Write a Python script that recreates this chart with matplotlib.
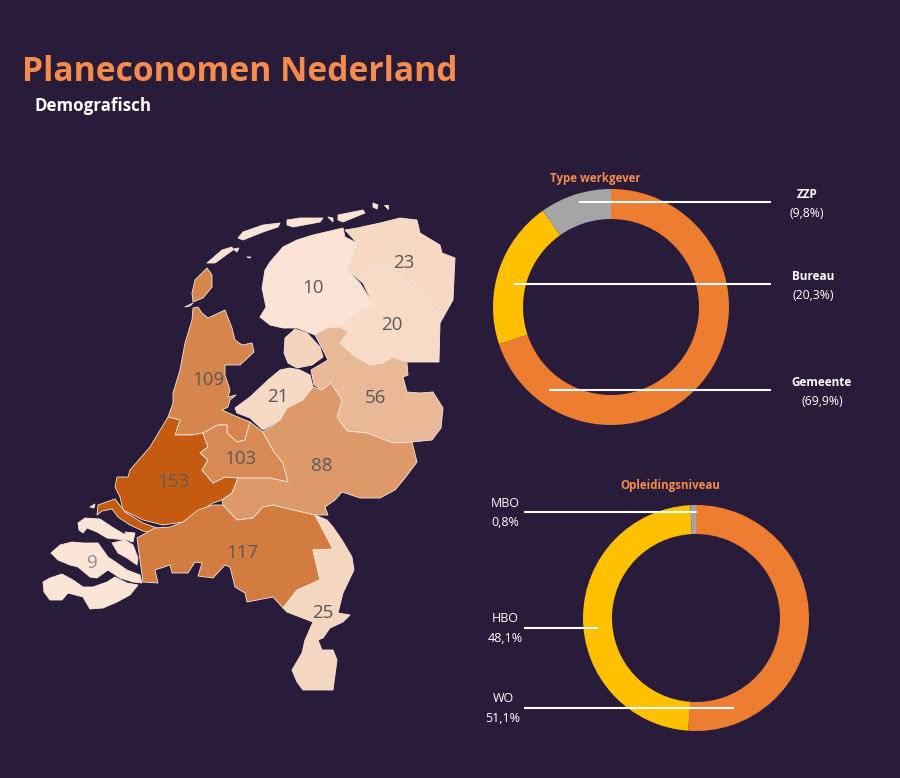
import matplotlib
matplotlib.use("Agg")
import matplotlib.pyplot as plt
from matplotlib.colors import LinearSegmentedColormap, Normalize
from matplotlib.patches import Polygon

BG = "#291C3A"
W, H = 900, 778

# ---- map data: value per province and outline (pixel positions of the picture)
province_names = ["Friesland", "Groningen", "Drenthe", "Overijssel", "Flevoland", "Noord-Holland",
                  "Zuid-Holland", "Utrecht", "Gelderland", "Noord-Brabant", "Limburg", "Zeeland"]
province_values = [10, 23, 20, 56, 21, 109, 153, 103, 88, 117, 25, 9]
label_xy = [(313, 286), (404, 261), (392, 323), (375, 396), (278, 395), (208, 378),
            (173, 480), (240, 457), (322, 464), (242, 551), (323, 611), (92, 561)]

friesland = [[(260,317),(266,307),(262,288),(265,270),(270,262),(283,247),(297,240),(313,235),(343,228),(345,237),(357,243),(347,270),
              (360,283),(373,304),(353,315),(340,327),(327,328),(315,335),(297,328),(283,328),(270,325)],
             [(207,263),(222,250),(232,247),(233,250),(215,263)],
             [(238,238),(243,232),(263,225),(280,223),(278,227),(263,232),(243,240)],
             [(287,220),(300,218),(323,218),(320,222),(293,227),(287,225)],
             [(338,215),(363,210),(365,213),(343,222),(338,220)],
             [(373,203),(378,205),(377,209),(373,207)],
             [(384,205),(388,205),(388,209)],
             [(328,217),(333,218),(333,222)],
             [(233,249),(239,248),(237,252)],
             [(247,257),(251,257),(249,258)]]
groningen = [[(345,230),(357,228),(380,223),(400,218),(417,220),(420,233),(440,245),(442,253),(455,258),(453,300),
              (440,323),(437,313),(413,287),(400,278),(383,265),(370,268),(363,283),(347,270),(357,243)]]
drenthe = [[(363,283),(370,268),(383,265),(400,278),(413,287),(437,313),(440,323),(439,362),(407,362),(393,357),
            (383,363),(370,365),(353,355),(340,343),(348,332),(340,327),(353,315),(373,304)]]
overijssel = [[(315,335),(327,328),(340,327),(348,332),(340,343),(353,355),(370,365),(383,363),(393,357),(407,363),
               (408,375),(403,377),(407,392),(420,393),(433,392),(443,408),(441,428),(432,440),(412,442),(393,443),(367,433),
               (347,431),(337,417),(342,400),(331,383),(322,390),(314,385),(311,370),(328,360),(323,350)]]
noordoostpolder = [[(295,329),(307,333),(320,347),(323,357),(312,365),(297,368),(288,363),(284,353),(285,338)]]
flevoland = [[(280,370),(290,368),(300,370),(310,375),(313,387),(303,400),(287,408),(280,420),(263,430),(250,418),
              (237,413),(235,408),(250,397),(268,380)]]
noord_holland = [[(193,308),(198,307),(202,313),(208,318),(225,310),(232,328),(235,340),(242,345),(252,343),(254,352),
                  (240,365),(225,365),(225,375),(230,390),(228,397),(236,395),(230,400),(228,407),(222,410),(233,415),
                  (250,422),(245,440),(237,442),(227,433),(227,425),(218,425),(203,433),(192,435),(175,435),(180,420),
                  (168,417),(173,403),(173,393),(180,370),(185,343),(192,320)],
                 [(207,268),(212,275),(212,287),(203,298),(193,302),(192,293),(195,280)],
                 [(185,307),(193,303),(190,306)]]
zuid_holland = [[(168,417),(150,447),(130,470),(128,477),(117,477),(115,487),(120,497),(123,510),(143,520),(163,525),(183,522),
                 (197,513),(213,503),(222,500),(232,493),(238,478),(225,477),(213,483),(202,470),(208,460),(200,453),(208,447),
                 (203,433),(192,435),(175,435),(180,420)],
                [(98,505),(115,499),(125,512),(143,523),(157,528),(152,533),(143,531),(130,525),(118,517),(112,509),
                 (102,511),(97,515)]]
utrecht = [[(203,433),(218,425),(227,425),(227,433),(237,442),(245,440),(250,422),(263,432),(270,445),(275,453),(283,463),
            (288,482),(270,478),(253,478),(238,478),(225,477),(213,483),(202,470),(208,460),(200,453),(208,447)]]
gelderland = [[(222,500),(232,493),(238,478),(253,478),(270,478),(288,482),(283,463),(275,453),(270,445),(263,432),
               (280,420),(287,408),(303,400),(313,387),(322,390),(331,383),(342,400),(337,417),(347,431),(367,433),
               (393,443),(412,442),(417,462),(405,478),(395,490),(380,498),(360,498),(342,492),(335,500),(325,507),
               (328,515),(315,515),(293,510),(273,505),(263,507),(253,518),(237,520),(223,505)]]
noord_brabant = [[(137,538),(155,528),(170,527),(183,522),(198,510),(213,505),(223,505),(237,520),(253,518),(263,507),(273,505),
                  (293,510),(315,515),(333,549),(313,550),(320,580),(297,590),(283,608),(273,597),(247,602),(245,593),
                  (235,587),(230,567),(225,565),(213,578),(198,576),(202,563),(195,562),(188,573),(172,573),(170,565),
                  (155,570),(158,583),(143,582),(140,560)]]
limburg = [[(315,515),(327,520),(333,527),(342,540),(352,557),(354,570),(343,593),(338,613),(350,615),(343,622),(330,628),
            (323,638),(318,640),(322,650),(333,650),(337,660),(333,690),(303,690),(297,682),(292,670),(302,653),(305,640),
            (313,622),(287,612),(283,608),(297,590),(320,580),(313,550),(333,549)]]
zeeland = [[(51,553),(60,545),(72,542),(83,543),(98,543),(103,550),(108,557),(117,563),(127,570),(140,575),(142,583),
            (133,582),(120,578),(108,570),(97,578),(90,577),(78,567),(70,565),(58,560)],
           [(78,523),(85,518),(100,519),(112,527),(122,533),(130,537),(125,540),(107,538),(97,532),(87,528),(83,533),(79,530)],
           [(112,543),(125,540),(133,545),(138,558),(137,565),(127,558),(118,553)],
           [(125,532),(135,533),(133,542),(127,540)],
           [(43,582),(50,578),(62,574),(73,580),(83,587),(93,587),(107,582),(115,577),(127,583),(138,585),(130,595),
            (117,602),(103,608),(90,609),(83,597),(68,593),(62,600),(50,600),(44,592)],
           [(90,507),(95,504),(94,508)]]
province_shapes = [friesland, groningen, drenthe, overijssel, flevoland, noord_holland,
                   zuid_holland, utrecht, gelderland, noord_brabant, limburg, zeeland]

# ---- donuts
employer_labels = ["Gemeente", "Bureau", "ZZP"]
employer_shares = [69.9, 20.3, 9.8]
employer_texts = ["(69,9%)", "(20,3%)", "(9,8%)"]
education_labels = ["WO", "HBO", "MBO"]
education_shares = [51.1, 48.1, 0.8]
education_texts = ["51,1%", "48,1%", "0,8%"]
donut_colors = ["#ED7D31", "#FFC000", "#A5A5A5"]

plt.rcParams["font.family"] = ["Open Sans", "DejaVu Sans"]
fig = plt.figure(figsize=(W / 100, H / 100), dpi=100, facecolor=BG)


def donut(values, cx, cy, r_out, r_in):
    ax = fig.add_axes([(cx - r_out) / W, 1 - (cy + r_out) / H, 2 * r_out / W, 2 * r_out / H])
    ax.pie(values, colors=donut_colors, startangle=90, counterclock=False, radius=1,
           wedgeprops=dict(width=1 - r_in / r_out, linewidth=0))
    ax.set_xlim(-1, 1)
    ax.set_ylim(-1, 1)
    ax.axis("off")


donut(employer_shares, 611, 307, 118, 88)
donut(education_shares, 696, 618, 113, 84)

# overlay in picture coordinates
ov = fig.add_axes([0, 0, 1, 1], facecolor="none")
ov.set_xlim(0, W)
ov.set_ylim(H, 0)
ov.axis("off")

cmap = LinearSegmentedColormap.from_list("nl", ["#FBE5D6", "#C55A11"])
norm = Normalize(min(province_values), max(province_values))
edge = "#F7E6DA"
for shape, val in zip(province_shapes, province_values):
    for ring in shape:
        ov.add_patch(Polygon(ring, closed=True, facecolor=cmap(norm(val)), edgecolor=edge,
                             linewidth=0.6, joinstyle="round"))
ov.add_patch(Polygon(noordoostpolder[0], closed=True, facecolor=cmap(norm(27)), edgecolor=edge, linewidth=0.6))

for (x, y), val in zip(label_xy, province_values):
    ov.text(x, y + 1.5, str(val), ha="center", va="center", fontsize=13.5,
            color="#8C8C8C" if val == 9 else "#595959")

ov.text(22, 72, "Planeconomen Nederland", color="#F58B4C", fontsize=24.2, fontweight="bold", va="center", ha="left")
ov.text(34, 106, "Demografisch", color="white", fontsize=12.2, fontweight="bold", va="center", ha="left")
ov.text(595, 178, "Type werkgever", color="#F58B4C", fontsize=8.3, fontweight="bold", ha="center", va="center")
ov.text(670, 485, "Opleidingsniveau", color="#F58B4C", fontsize=8.3, fontweight="bold", ha="center", va="center")

# leaders and captions
for (x0, y), name, txt, tx in zip([(549, 390), (514, 284), (579, 202)], employer_labels, employer_texts,
                                  [822, 813, 807]):
    ov.plot([x0, 771], [y, y], color="white", lw=1.5, solid_capstyle="butt")
    ov.text(tx, y - 8, name, color="white", fontsize=8.5, fontweight="bold", ha="center", va="center")
    ov.text(tx, y + 11, txt, color="white", fontsize=8.8, ha="center", va="center")
for (x1, y), name, txt, tx in zip([(734, 708), (598, 628), (697, 512)], education_labels, education_texts,
                                  [503, 505, 505]):
    ov.plot([524, x1], [y, y], color="white", lw=1.5, solid_capstyle="butt")
    ov.text(tx, y - 9, name, color="white", fontsize=9, ha="center", va="center")
    ov.text(tx, y + 10, txt, color="white", fontsize=9, ha="center", va="center")

fig.savefig("out.png", dpi=100, facecolor=BG)
